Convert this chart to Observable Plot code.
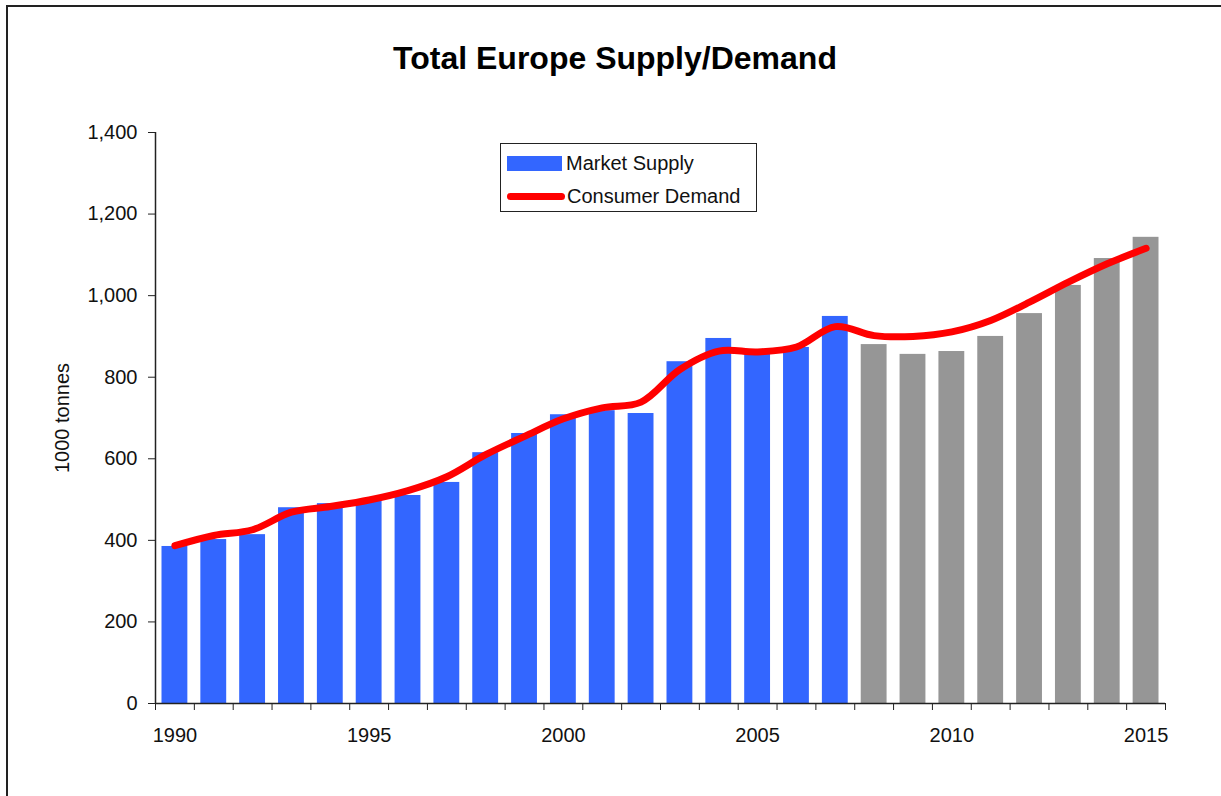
<!DOCTYPE html>
<html>
<head>
<meta charset="utf-8">
<script src="https://cdn.jsdelivr.net/npm/d3@7"></script>
<script src="https://cdn.jsdelivr.net/npm/@observablehq/plot@0.6"></script>
<style>
  html, body { margin: 0; padding: 0; width: 1221px; height: 796px; overflow: hidden; background: #fff; }
  body { position: relative; font-family: "Liberation Sans", Arial, sans-serif; }
  #frame { position: absolute; left: 6px; top: 5px; width: 1300px; height: 900px; border: 2px solid #222; box-sizing: border-box; }
  #title { position: absolute; left: 0; width: 1230px; top: 40px; text-align: center; font: bold 32px "Liberation Sans", Arial, sans-serif; color: #000; }
  #chart { position: absolute; left: 0; top: 0; }
  #legend { position: absolute; left: 500px; top: 143px; width: 257px; height: 69px; border: 1.5px solid #222; box-sizing: border-box; background: #fff; font: 20px "Liberation Sans", Arial, sans-serif; color: #111; }
  .row { position: absolute; left: 6px; display: flex; align-items: center; }
  .sw { width: 55px; height: 15px; background: #3366FF; margin-right: 4px; }
  .ln { width: 58px; height: 7px; border-radius: 4px; background: #FF0000; margin-right: 2px; }
</style>
</head>
<body>
<div id="frame"></div>
<div id="title">Total Europe Supply/Demand</div>
<div id="chart"></div>
<div id="legend">
  <div class="row" style="top:8px"><div class="sw"></div><span>Market Supply</span></div>
  <div class="row" style="top:41px"><div class="ln"></div><span>Consumer Demand</span></div>
</div>
<script>
const years   = [1990,1991,1992,1993,1994,1995,1996,1997,1998,1999,2000,2001,2002,2003,2004,2005,2006,2007,2008,2009,2010,2011,2012,2013,2014,2015];
const supply  = [385,402,414,480,490,497,510,542,615,662,708,718,711,838,895,858,873,949,880,856,863,900,956,1025,1091,1143];
const demand  = [387,412,426,469,483,499,522,556,610,655,698,725,739,819,864,862,874,924,902,900,911,939,984,1033,1078,1116];
const status  = ["actual","actual","actual","actual","actual","actual","actual","actual","actual","actual","actual","actual","actual","actual","actual","actual","actual","actual","forecast","forecast","forecast","forecast","forecast","forecast","forecast","forecast"];
const yTicks  = [0,200,400,600,800,1000,1200,1400];
const xLabels = [1990,1995,2000,2005,2010,2015];

const data = years.map((y, i) => ({year: y, supply: supply[i], demand: demand[i], status: status[i]}));
const xDomain = [years[0] - 0.5, years[years.length - 1] + 0.5];
const boundaries = years.map(y => y - 0.5).concat([years[years.length - 1] + 0.5]);

const chart = Plot.plot({
  width: 1221,
  height: 796,
  marginLeft: 155,
  marginRight: 56,
  marginTop: 132,
  marginBottom: 93,
  style: {fontFamily: "'Liberation Sans', Arial, sans-serif", fontSize: "20px", color: "#111", background: "transparent"},
  x: {type: "linear", domain: xDomain},
  y: {domain: [0, 1400]},
  color: {domain: ["actual", "forecast"], range: ["#3366FF", "#969696"]},
  marks: [
    Plot.rectY(data, {x1: d => d.year - 0.5, x2: d => d.year + 0.5, y: "supply", fill: "status", insetLeft: 6.5, insetRight: 6.5}),
    Plot.line(data, {x: "year", y: "demand", stroke: "#FF0000", strokeWidth: 7, curve: "catmull-rom", strokeLinecap: "round", strokeLinejoin: "round"}),
    Plot.ruleY([0], {stroke: "#222", strokeWidth: 1.5}),
    Plot.ruleX([xDomain[0]], {stroke: "#222", strokeWidth: 1.5}),
    Plot.axisY({ticks: yTicks, tickFormat: d3.format(","), tickSize: 7, tickPadding: 11, stroke: "#222", label: null}),
    Plot.axisX({ticks: boundaries, tickFormat: () => "", tickSize: 7, stroke: "#222", label: null}),
    Plot.axisX({ticks: xLabels, tickFormat: d => String(d), tickSize: 0, tickPadding: 24, label: null}),
    Plot.text(["1000 tonnes"], {frameAnchor: "left", textAnchor: "middle", rotate: -90, dx: -93, fontSize: 20, fill: "#111"})
  ]
});
document.getElementById("chart").appendChild(chart);
</script>
</body>
</html>
